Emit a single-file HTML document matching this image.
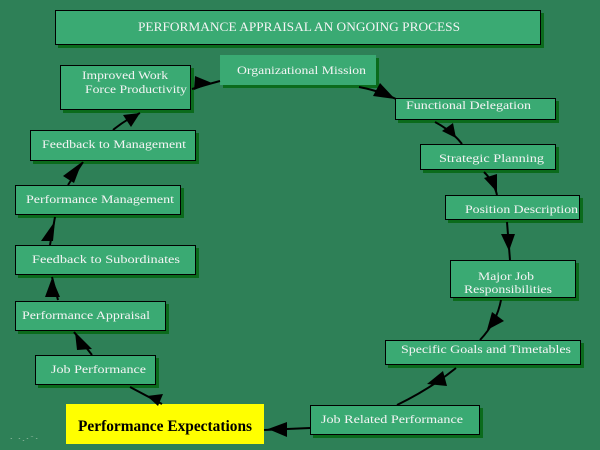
<!DOCTYPE html>
<html><head><meta charset="utf-8"><style>
html,body{margin:0;padding:0;background:#2e8057;}
svg{display:block;}
text{font-family:"Liberation Serif",serif;fill:#f4f4f4;}
</style></head><body>
<svg width="600" height="450" viewBox="0 0 600 450" xmlns="http://www.w3.org/2000/svg">
<rect x="0" y="0" width="600" height="450" fill="#2e8057"/>
<g fill="#0b6b1c">
<rect x="58" y="13" width="486" height="35"/>
<rect x="63" y="68" width="131" height="45"/>
<rect x="223" y="58" width="156" height="30"/>
<rect x="398" y="101" width="161" height="22"/>
<rect x="423" y="147" width="136" height="26"/>
<rect x="448" y="198" width="135" height="25"/>
<rect x="453" y="263" width="126" height="38"/>
<rect x="388" y="343" width="196" height="25"/>
<rect x="313" y="408" width="170" height="30"/>
<rect x="33" y="133" width="166" height="31"/>
<rect x="18" y="188" width="166" height="30"/>
<rect x="18" y="248" width="181" height="30"/>
<rect x="18" y="304" width="151" height="30"/>
<rect x="38" y="358" width="121" height="30"/>
</g>
<g fill="#3aaa73" stroke="#000" stroke-width="1">
<rect x="55.5" y="10.5" width="485" height="34"/>
<rect x="60.5" y="65.5" width="130" height="44"/>
<rect x="395.5" y="98.5" width="160" height="21"/>
<rect x="420.5" y="144.5" width="135" height="25"/>
<rect x="445.5" y="195.5" width="134" height="24"/>
<rect x="450.5" y="260.5" width="125" height="37"/>
<rect x="385.5" y="340.5" width="195" height="24"/>
<rect x="310.5" y="405.5" width="169" height="29"/>
<rect x="30.5" y="130.5" width="165" height="30"/>
<rect x="15.5" y="185.5" width="165" height="29"/>
<rect x="15.5" y="245.5" width="180" height="29"/>
<rect x="15.5" y="301.5" width="150" height="29"/>
<rect x="35.5" y="355.5" width="120" height="29"/>
</g>
<rect x="220" y="55" width="156" height="30" fill="#3aaa73"/>
<rect x="66" y="404" width="198" height="40" fill="#ffff00"/>

<g fill="none" stroke="#000" stroke-width="2">
<path d="M192,89 Q205,85 220,81"/>
<path d="M359,87 Q380,91 396,99"/>
<path d="M435,122 Q452,131 462,144"/>
<path d="M484,172 Q494,182 497,195"/>
<path d="M507,222 L510,260"/>
<path d="M501,300 Q497,322 480,340"/>
<path d="M456,368 Q430,389 397,405"/>
<path d="M310,428 L264,430"/>
<path d="M130,387 L162,404"/>
<path d="M92,355 L74,332"/>
<path d="M58,300 L52,277"/>
<path d="M50,245 L55,217"/>
<path d="M68,185 L83,162"/>
<path d="M113,130 Q125,120 140,113"/>
</g>
<g fill="#000">
<polygon points="195,76 212,83 194,90"/>
<polygon points="380,83 373,96 395,99"/>
<polygon points="453,123 442,131 456,138"/>
<polygon points="484,178 497,174 497,192"/>
<polygon points="501,234 515,234 509,251"/>
<polygon points="492,312 504,321 487,330"/>
<polygon points="443,371 447,386 427,384"/>
<polygon points="287,422 287,437 268,429"/>
<polygon points="147,396 163,394 158,406"/>
<polygon points="77,350 92,349 75,332"/>
<polygon points="45,297 60,297 52,278"/>
<polygon points="41,241 53,241 55,221"/>
<polygon points="63,176 74,183 82,162"/>
<polygon points="123,115 131,127 140,113"/>
</g>

<text x="138" y="31" font-size="13" textLength="322" lengthAdjust="spacingAndGlyphs">PERFORMANCE APPRAISAL AN ONGOING PROCESS</text>
<text x="82" y="79" font-size="12" textLength="86" lengthAdjust="spacingAndGlyphs">Improved Work</text>
<text x="85" y="93" font-size="12" textLength="102" lengthAdjust="spacingAndGlyphs">Force Productivity</text>
<text x="237" y="74" font-size="12" textLength="129" lengthAdjust="spacingAndGlyphs">Organizational Mission</text>
<text x="406" y="109" font-size="12" textLength="125" lengthAdjust="spacingAndGlyphs">Functional Delegation</text>
<text x="439" y="162" font-size="12" textLength="105" lengthAdjust="spacingAndGlyphs">Strategic Planning</text>
<text x="465" y="213" font-size="12" textLength="113" lengthAdjust="spacingAndGlyphs">Position Description</text>
<text x="478" y="280" font-size="12" textLength="56" lengthAdjust="spacingAndGlyphs">Major Job</text>
<text x="464" y="293" font-size="12" textLength="88" lengthAdjust="spacingAndGlyphs">Responsibilities</text>
<text x="401" y="353" font-size="12" textLength="170" lengthAdjust="spacingAndGlyphs">Specific Goals and Timetables</text>
<text x="321" y="423" font-size="12" textLength="142" lengthAdjust="spacingAndGlyphs">Job Related Performance</text>
<text x="42" y="148" font-size="12" textLength="144" lengthAdjust="spacingAndGlyphs">Feedback to Management</text>
<text x="26" y="203" font-size="12" textLength="148" lengthAdjust="spacingAndGlyphs">Performance Management</text>
<text x="32" y="263" font-size="12" textLength="148" lengthAdjust="spacingAndGlyphs">Feedback to Subordinates</text>
<text x="22" y="319" font-size="12" textLength="128" lengthAdjust="spacingAndGlyphs">Performance Appraisal</text>
<text x="51" y="373" font-size="12" textLength="95" lengthAdjust="spacingAndGlyphs">Job Performance</text>
<text x="78" y="431" font-size="16" font-weight="bold" style="fill:#000" textLength="174" lengthAdjust="spacingAndGlyphs">Performance Expectations</text>
<text x="9" y="441" font-size="7" style="fill:#8fb89f" textLength="30" lengthAdjust="spacingAndGlyphs">· ·.·`·</text>
</svg>
</body></html>
